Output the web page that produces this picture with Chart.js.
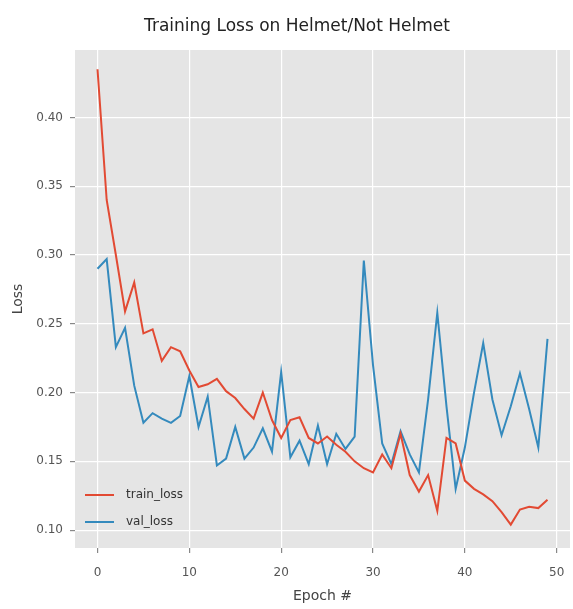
<!DOCTYPE html>
<html>
<head>
<meta charset="utf-8">
<script src="https://cdn.jsdelivr.net/npm/chart.js@4/dist/chart.umd.min.js"></script>
<style>
  body { margin: 0; background: #fff; }
  #wrap { width: 573px; height: 609px; }
</style>
</head>
<body>
<div id="wrap"><canvas id="lossChart"></canvas></div>
<script>
const epochs = Array.from({ length: 50 }, (_, i) => i);

const trainLoss = [
  0.435, 0.340, 0.300, 0.259, 0.280, 0.243, 0.246, 0.223, 0.233, 0.230,
  0.216, 0.204, 0.206, 0.210, 0.201, 0.196, 0.188, 0.181, 0.200, 0.180,
  0.167, 0.180, 0.182, 0.167, 0.163, 0.168, 0.162, 0.157, 0.150, 0.145,
  0.142, 0.155, 0.145, 0.170, 0.140, 0.128, 0.140, 0.114, 0.167, 0.163,
  0.136, 0.130, 0.126, 0.121, 0.113, 0.104, 0.115, 0.117, 0.116, 0.122
];

const valLoss = [
  0.290, 0.297, 0.233, 0.247, 0.205, 0.178, 0.185, 0.181, 0.178, 0.183,
  0.212, 0.175, 0.197, 0.147, 0.152, 0.175, 0.152, 0.160, 0.174, 0.157,
  0.215, 0.153, 0.165, 0.148, 0.176, 0.148, 0.170, 0.159, 0.168, 0.296,
  0.220, 0.163, 0.148, 0.172, 0.155, 0.142, 0.195, 0.258, 0.190, 0.130,
  0.160, 0.200, 0.236, 0.195, 0.169, 0.190, 0.214, 0.188, 0.160, 0.239
];

const xTicks = [0, 10, 20, 30, 40, 50];
const yTicks = [0.10, 0.15, 0.20, 0.25, 0.30, 0.35, 0.40];

const chartTitle = 'Training Loss on Helmet/Not Helmet';

// grey ggplot panel behind the lines
const panelBg = {
  id: 'panelBg',
  beforeDraw(chart) {
    const { ctx, chartArea: a } = chart;
    ctx.save();
    ctx.fillStyle = '#e5e5e5';
    ctx.fillRect(a.left, a.top, a.right - a.left, a.bottom - a.top);
    ctx.restore();
  }
};

// title and in-panel legend, placed like the matplotlib figure
const extras = {
  id: 'extras',
  afterDraw(chart) {
    const ctx = chart.ctx;
    ctx.save();
    ctx.fillStyle = '#222';
    ctx.font = '17px "DejaVu Sans"';
    ctx.textAlign = 'center';
    ctx.textBaseline = 'middle';
    ctx.fillText(chartTitle, 297, 27);

    ctx.font = '12px "DejaVu Sans"';
    ctx.textAlign = 'left';
    chart.data.datasets.forEach((ds, i) => {
      const y = 495 + i * 27;
      ctx.strokeStyle = ds.borderColor;
      ctx.lineWidth = 2;
      ctx.beginPath();
      ctx.moveTo(85, y);
      ctx.lineTo(114, y);
      ctx.stroke();
      ctx.fillStyle = '#333';
      ctx.fillText(ds.label, 126, y);
    });
    ctx.restore();
  }
};

new Chart(document.getElementById('lossChart'), {
  type: 'line',
  data: {
    datasets: [
      {
        label: 'train_loss',
        data: epochs.map((e, i) => ({ x: e, y: trainLoss[i] })),
        borderColor: '#e24a33',
        borderWidth: 2,
        pointRadius: 0,
        tension: 0
      },
      {
        label: 'val_loss',
        data: epochs.map((e, i) => ({ x: e, y: valLoss[i] })),
        borderColor: '#348abd',
        borderWidth: 2,
        pointRadius: 0,
        tension: 0
      }
    ]
  },
  plugins: [panelBg, extras],
  options: {
    responsive: true,
    maintainAspectRatio: false,
    animation: false,
    layout: { padding: { top: 50, right: 3, left: 0, bottom: 0 } },
    plugins: {
      legend: { display: false },
      title: { display: false },
      tooltip: { enabled: false }
    },
    scales: {
      x: {
        type: 'linear',
        min: -2.45,
        max: 51.45,
        afterBuildTicks: (scale) => { scale.ticks = xTicks.map(v => ({ value: v })); },
        afterFit: (scale) => {
          scale.height = 61;
          scale.paddingLeft = 0;
          scale.paddingRight = 0;
        },
        border: { display: false },
        grid: { color: '#ffffff', lineWidth: 1.2, tickColor: '#888', tickLength: 5 },
        ticks: { color: '#555', padding: 13, font: { family: 'DejaVu Sans', size: 12 } },
        title: { display: true, text: 'Epoch #', color: '#444', padding: 4, font: { family: 'DejaVu Sans', size: 14 } }
      },
      y: {
        min: 0.087,
        max: 0.449,
        afterBuildTicks: (scale) => { scale.ticks = yTicks.map(v => ({ value: v })); },
        afterFit: (scale) => { scale.width = 75; },
        border: { display: false },
        grid: { color: '#ffffff', lineWidth: 1.2, tickColor: '#888', tickLength: 5 },
        ticks: {
          color: '#555',
          padding: 7,
          font: { family: 'DejaVu Sans', size: 12 },
          callback: (v) => v.toFixed(2)
        },
        title: { display: true, text: 'Loss', color: '#444', padding: 10, font: { family: 'DejaVu Sans', size: 14 } }
      }
    }
  }
});
</script>
</body>
</html>
